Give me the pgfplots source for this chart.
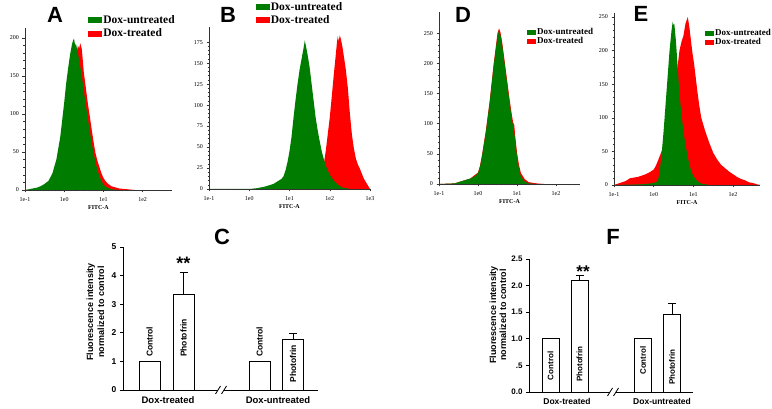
\documentclass[border=0pt]{standalone}
\usepackage{fontspec}
\setmainfont{Liberation Serif}
\newfontfamily\arial{Liberation Sans}
\usepackage{pgfplots}
\pgfplotsset{compat=1.18}
\definecolor{hgreen}{RGB}{0,125,0}
\definecolor{hred}{RGB}{255,0,0}
\pgfplotsset{
 histo/.style={
  scale only axis, anchor=south west,
  axis lines*=left, axis line style={line width=0.5pt, black!80},
  tick style={black!80, line width=0.4pt}, tick align=outside,
  major tick length=2.5pt, minor tick length=1.5pt,
  xmin=-1, ymin=0,
  xtick={-1,0,1,2,3}, xticklabels={1e-1,1e0,1e1,1e2,1e3},
  minor xtick={-0.699,-0.523,-0.398,-0.301,-0.222,-0.155,-0.097,-0.046,
    0.301,0.477,0.602,0.699,0.778,0.845,0.903,0.954,
    1.301,1.477,1.602,1.699,1.778,1.845,1.903,1.954,
    2.301,2.477,2.602,2.699,2.778,2.845,2.903,2.954},
  minor y tick num=4,
  tick label style={font=\fontsize{6}{6}\selectfont},
  xticklabel style={yshift=-1.5pt},
  /pgf/number format/assume math mode=true,
  xlabel={FITC-A},
  xlabel style={font=\bfseries\fontsize{6}{6}\selectfont, at={(axis description cs:0.5,0)}, anchor=north, yshift=-12pt},
  reverse legend, legend cell align=left,
 },
 bigleg/.style={legend image code/.code={\fill[##1] (0pt,-3pt) rectangle (14pt,3pt);},
   legend style={draw=none, fill=none, anchor=north west, inner sep=0pt,
   font=\bfseries\fontsize{11.5}{11.5}\selectfont, row sep=2pt,
   nodes={inner sep=1pt}}},
 smallleg/.style={legend image code/.code={\fill[##1] (0pt,-2.5pt) rectangle (9pt,2.5pt);},
   legend style={draw=none, fill=none, anchor=north west, inner sep=0pt,
   font=\bfseries\fontsize{9}{9}\selectfont, row sep=-1pt,
   nodes={inner sep=1pt}}},
 barax/.style={
  scale only axis, anchor=south west, clip=false,
  axis lines*=left, axis line style={line width=0.8pt, black},
  ymin=0, xmin=0,
  xtick style={draw=none}, ytick style={line width=0.8pt, black},
  tick align=outside, major tick length=3pt,
  yticklabel style={font=\arial\bfseries\fontsize{8.5}{8.5}\selectfont},
 },
 mybar/.style={ybar, bar shift=0pt, fill=white, draw=black, line width=0.8pt},
 myerr/.style={error bars/.cd, y dir=plus, y explicit,
   error bar style={line width=0.8pt, black},
   error mark options={rotate=90, mark size=4pt, line width=0.8pt, black}},
}
\begin{document}
\begin{tikzpicture}
\useasboundingbox (0,0) rectangle (772pt,409pt);
\clip (0,0) rectangle (772pt,409pt);

% ---------------- A ----------------
\begin{axis}[histo, bigleg, at={(25pt,219pt)}, width=147pt, height=162pt,
  xmax=2.75, ymax=213, ytick={0,50,100,150,200},
  legend style={at={(0.43,1.085)}}]
\addplot[fill=hred, draw=none] coordinates {(-1,0)(-0.7,1)(-0.5,3)(-0.3,8)(-0.1,25)(0,50)(0.1,90)(0.2,135)(0.3,175)(0.35,190)(0.38,186)(0.41,193)(0.45,185)(0.5,155)(0.55,135)(0.6,115)(0.65,98)(0.7,80)(0.75,63)(0.8,48)(0.85,38)(0.9,30)(0.95,22)(1,16)(1.05,12)(1.1,9)(1.2,5)(1.4,2)(1.6,1)(1.8,0)} \closedcycle;
\addlegendentry{Dox-treated}
\addplot[fill=hgreen, draw=none] coordinates {(-1,0)(-0.9,1)(-0.8,2)(-0.7,3)(-0.6,5)(-0.5,8)(-0.4,12)(-0.3,22)(-0.2,40)(-0.1,70)(0,115)(0.05,140)(0.1,160)(0.15,178)(0.2,192)(0.23,197)(0.25,199)(0.28,190)(0.3,192)(0.35,180)(0.4,165)(0.45,150)(0.5,130)(0.55,112)(0.6,95)(0.65,78)(0.7,62)(0.75,48)(0.8,36)(0.85,26)(0.9,18)(0.95,12)(1,7)(1.1,3)(1.2,1)(1.4,0)} \closedcycle;
\addlegendentry{Dox-untreated}
\end{axis}

% ---------------- B ----------------
\begin{axis}[histo, bigleg, at={(209pt,220pt)}, width=161pt, height=162pt,
  xmax=3, ymax=193, ytick={0,25,50,75,100,125,150,175},
  legend style={at={(0.29,1.16)}}]
\addplot[fill=hred, draw=none] coordinates {(1.6,0)(1.75,6)(1.8,12)(1.85,29)(1.9,45)(1.95,65)(2.0,85)(2.05,110)(2.1,136)(2.15,160)(2.18,175)(2.2,182)(2.22,176)(2.25,183)(2.28,178)(2.32,168)(2.36,155)(2.4,142)(2.45,120)(2.5,90)(2.55,65)(2.6,48)(2.65,36)(2.7,29)(2.75,24)(2.8,18)(2.85,12)(2.9,8)(2.95,4)(3,0)} \closedcycle;
\addlegendentry{Dox-treated}
\addplot[fill=hgreen, draw=none] coordinates {(-1,0)(0,0)(0.2,1)(0.4,3)(0.6,6)(0.7,9)(0.8,12)(0.85,15)(0.9,22)(0.95,32)(1,45)(1.05,62)(1.1,85)(1.15,106)(1.2,125)(1.25,142)(1.3,155)(1.35,168)(1.38,177)(1.41,170)(1.45,160)(1.5,145)(1.55,125)(1.6,105)(1.65,85)(1.7,70)(1.75,57)(1.8,45)(1.85,36)(1.9,28)(1.95,22)(2,17)(2.1,10)(2.2,5)(2.3,2)(2.5,0)} \closedcycle;
\addlegendentry{Dox-untreated}
\end{axis}

% ---------------- D ----------------
\begin{axis}[histo, smallleg, at={(439pt,225pt)}, width=141pt, height=172pt,
  xmax=2.615, ymax=285, ytick={0,50,100,150,200,250},
  legend style={at={(0.624,0.91)}}]
\addplot[fill=hred, draw=none] coordinates {(-1,0)(-0.6,1)(-0.4,5)(-0.2,9)(0,19)(0.05,30)(0.1,47)(0.2,88)(0.3,138)(0.4,198)(0.5,250)(0.54,258)(0.58,250)(0.62,235)(0.7,195)(0.8,145)(0.85,122)(0.9,102)(0.93,98)(0.95,82)(1,52)(1.05,32)(1.1,18)(1.2,8)(1.3,3)(1.5,1)(1.7,0)} \closedcycle;
\addlegendentry{Dox-treated}
\addplot[fill=hgreen, draw=none] coordinates {(-1,0)(-0.6,1)(-0.5,3)(-0.4,5)(-0.3,7)(-0.2,9)(-0.1,12)(0,18)(0.05,28)(0.1,45)(0.15,65)(0.2,85)(0.25,110)(0.3,135)(0.35,165)(0.4,195)(0.45,220)(0.5,245)(0.54,255)(0.58,245)(0.62,230)(0.66,210)(0.7,190)(0.75,165)(0.8,140)(0.85,115)(0.9,95)(0.95,75)(1,45)(1.05,25)(1.1,12)(1.2,4)(1.3,1)(1.5,0)} \closedcycle;
\addlegendentry{Dox-untreated}
\end{axis}

% ---------------- E ----------------
\begin{axis}[histo, smallleg, at={(614pt,224pt)}, width=146pt, height=172pt,
  xmax=2.68, ymax=256, ytick={0,50,100,150,200,250},
  legend style={at={(0.623,0.91)}}]
\addplot[fill=hred, draw=none] coordinates {(-1,0)(-0.9,2)(-0.7,6)(-0.6,10)(-0.5,11)(-0.4,12)(-0.3,14)(-0.2,16)(-0.1,19)(0,23)(0.05,28)(0.1,35)(0.2,50)(0.3,75)(0.4,100)(0.5,130)(0.6,175)(0.65,200)(0.7,213)(0.75,222)(0.8,240)(0.86,250)(0.9,235)(0.94,215)(0.98,195)(1.02,180)(1.06,160)(1.1,140)(1.15,118)(1.2,100)(1.3,80)(1.4,63)(1.5,48)(1.6,38)(1.7,30)(1.8,25)(1.9,20)(2,16)(2.1,12)(2.2,9)(2.3,7)(2.4,4)(2.5,3)(2.6,1)(2.7,0)} \closedcycle;
\addlegendentry{Dox-treated}
\addplot[fill=hgreen, draw=none] coordinates {(-1,0)(-0.3,1)(0,3)(0.08,5)(0.12,10)(0.16,25)(0.2,45)(0.25,80)(0.3,120)(0.35,160)(0.4,200)(0.45,230)(0.48,243)(0.5,238)(0.52,240)(0.56,215)(0.6,180)(0.65,135)(0.7,105)(0.75,80)(0.8,60)(0.85,45)(0.9,30)(0.95,20)(1,13)(1.1,6)(1.2,2)(1.4,0)} \closedcycle;
\addlegendentry{Dox-untreated}
\end{axis}

% ---------------- C ----------------
\begin{axis}[barax, at={(123pt,19pt)}, width=195pt, height=143pt,
  xmax=195, ymax=5, ytick={0,1,2,3,4,5}, yticklabels={0,1,2,3,4,5},
  xtick={45,155}, xticklabels={Dox-treated,Dox-untreated},
  xticklabel style={font=\arial\bfseries\fontsize{9.5}{9.5}\selectfont},
  ylabel={Fluorescence intensity\\normalized to control},
  ylabel style={align=center, font=\arial\bfseries\fontsize{9}{11}\selectfont,
    at={(axis description cs:-0.141,0.545)}, anchor=center}]
\addplot[mybar, bar width=21] coordinates {(26.5,1) (136.5,1)};
\addplot[mybar, bar width=21, myerr] coordinates {(60.5,3.35) +- (0,0.77) (170,1.78) +- (0,0.2)};
\node[rotate=90, anchor=west, font=\arial\bfseries\fontsize{8.5}{8.5}\selectfont, inner sep=0pt] at (axis cs:26.5,1.15) {Control};
\node[rotate=90, anchor=west, font=\arial\bfseries\fontsize{8.5}{8.5}\selectfont, inner sep=0pt] at (axis cs:60.5,1.15) {Photofrin};
\node[rotate=90, anchor=west, font=\arial\bfseries\fontsize{8.5}{8.5}\selectfont, inner sep=0pt] at (axis cs:136.5,1.15) {Control};
\node[rotate=90, anchor=west, font=\arial\bfseries\fontsize{8.5}{8.5}\selectfont, inner sep=0pt] at (axis cs:170,0.25) {Photofrin};
\node[font=\arial\bfseries\fontsize{18}{18}\selectfont] at (axis cs:60.5,4.42) {**};
\fill[white] (axis cs:95,0) ++(0pt,-3pt) rectangle ++(6pt,6pt);
\draw[line width=0.8pt] (axis cs:95,0) ++(-2.5pt,-4pt) -- ++(5pt,8pt);
\draw[line width=0.8pt] (axis cs:101,0) ++(-2.5pt,-4pt) -- ++(5pt,8pt);
\end{axis}

% ---------------- F ----------------
\begin{axis}[barax, at={(529pt,17pt)}, width=164pt, height=133pt,
  xmax=164, ymax=2.5, ytick={0,0.5,1,1.5,2,2.5}, yticklabels={0.0,.5,1.0,1.5,2.0,2.5},
  yticklabel style={font=\arial\bfseries\fontsize{8}{8}\selectfont},
  xtick={38,133}, xticklabels={Dox-treated,Dox-untreated},
  xticklabel style={font=\arial\bfseries\fontsize{8.5}{8.5}\selectfont},
  ylabel={Fluorescence intensity\\normalized to control},
  ylabel style={align=center, font=\arial\bfseries\fontsize{9}{10}\selectfont,
    at={(axis description cs:-0.189,0.58)}, anchor=center}]
\addplot[mybar, bar width=17] coordinates {(21.5,1) (114,1)};
\addplot[mybar, bar width=17, myerr] coordinates {(50.5,2.1) +- (0,0.1) (143,1.45) +- (0,0.22)};
\node[rotate=90, anchor=west, font=\arial\bfseries\fontsize{8}{8}\selectfont, inner sep=0pt] at (axis cs:21.5,0.22) {Control};
\node[rotate=90, anchor=west, font=\arial\bfseries\fontsize{8}{8}\selectfont, inner sep=0pt] at (axis cs:50.5,0.19) {Photofrin};
\node[rotate=90, anchor=west, font=\arial\bfseries\fontsize{8}{8}\selectfont, inner sep=0pt] at (axis cs:114,0.32) {Control};
\node[rotate=90, anchor=west, font=\arial\bfseries\fontsize{8}{8}\selectfont, inner sep=0pt] at (axis cs:143,0.13) {Photofrin};
\node[font=\arial\bfseries\fontsize{17}{17}\selectfont] at (axis cs:54,2.26) {**};
\fill[white] (axis cs:81,0) ++(0pt,-3pt) rectangle ++(6pt,6pt);
\draw[line width=0.8pt] (axis cs:81,0) ++(-2.5pt,-4pt) -- ++(5pt,8pt);
\draw[line width=0.8pt] (axis cs:87,0) ++(-2.5pt,-4pt) -- ++(5pt,8pt);
\end{axis}

% panel letters
\begin{scope}[every node/.style={font=\arial\bfseries\fontsize{22}{22}\selectfont}]
\node at (55pt,394pt) {A};
\node at (228pt,394pt) {B};
\node at (463pt,394pt) {D};
\node at (641pt,395pt) {E};
\node at (222pt,172pt) {C};
\node at (613pt,172pt) {F};
\end{scope}
\end{tikzpicture}
\end{document}
